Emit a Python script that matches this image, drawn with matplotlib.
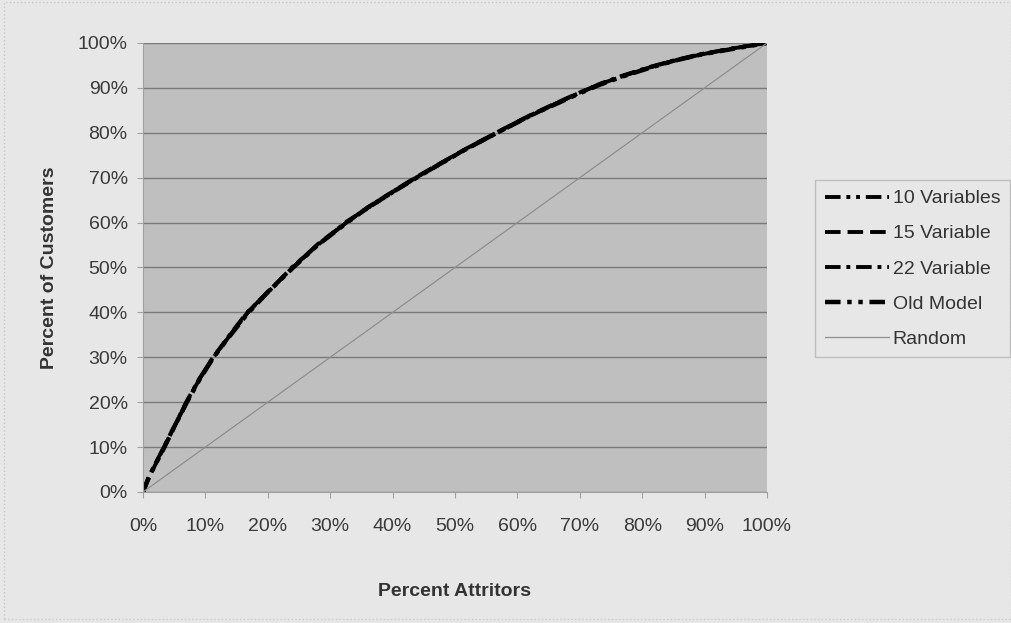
import matplotlib.pyplot as plt
from matplotlib.ticker import FuncFormatter

plt.rcParams['font.family'] = ['Liberation Sans', 'DejaVu Sans']

# Percent attritors (x) and percent of customers (y)
x_pct = [0, 1, 3.4, 5, 7, 9, 11.3, 14, 16.8, 20, 24, 28, 32.6, 36, 40,
         43.5, 47, 51.3, 56.7, 62, 66, 69.5, 73.2, 77, 81.3, 85, 89.3, 95, 100]
vars10 = [0, 3.5, 10, 14.5, 20, 25, 30, 35, 40, 44.5, 50, 55, 60, 63.3, 66.8,
          69.8, 72.6, 76, 80, 83.8, 86.4, 88.6, 90.8, 92.7, 94.6, 96, 97.4, 98.9, 100]
vars15 = [0, 3.4, 10, 14.4, 20, 25, 30.2, 35, 40, 44.6, 50, 55.2, 60, 63.4, 66.9,
          69.9, 72.7, 76.1, 80.1, 83.9, 86.5, 88.7, 90.8, 92.7, 94.6, 96, 97.4, 98.9, 100]
vars22 = [0, 3.6, 10.2, 14.6, 20.2, 25.2, 30, 35.2, 40.2, 44.4, 50.2, 55, 60.2, 63.2, 66.7,
          69.8, 72.5, 76, 79.9, 83.7, 86.4, 88.6, 90.9, 92.8, 94.7, 96.1, 97.5, 98.9, 100]
old_model = [0, 3.5, 9.9, 14.5, 19.9, 24.9, 30, 34.9, 39.8, 44.5, 49.9, 55, 59.9, 63.3, 66.8,
             69.7, 72.6, 76, 80, 83.8, 86.3, 88.5, 90.7, 92.6, 94.5, 96, 97.4, 98.8, 100]
random_x = [0, 100]
random_y = [0, 100]

fig = plt.figure(figsize=(10.12, 6.23), dpi=100, facecolor='#e7e7e7')
ax = fig.add_axes([0.1413, 0.2103, 0.6166, 0.7207])
ax.set_facecolor('#bfbfbf')

ax.plot(x_pct, vars10, color='black', lw=2.8, dashes=(4, 1.5, 1, 1.5, 1, 1.5), label='10 Variables')
ax.plot(x_pct, vars15, color='black', lw=2.8, dashes=(4, 1.8), label='15 Variable')
ax.plot(x_pct, vars22, color='black', lw=2.8, dashes=(4, 1.5, 1, 1.5), label='22 Variable')
ax.plot(x_pct, old_model, color='black', lw=3.2, dashes=(3.5, 1.5, 1, 1.5, 1, 1.5), label='Old Model')
ax.plot(random_x, random_y, color='#8e8e8e', lw=0.9, label='Random')

ax.set_xlim(0, 100)
ax.set_ylim(0, 100)
ax.set_xticks(range(0, 101, 10))
ax.set_yticks(range(0, 101, 10))
pct = FuncFormatter(lambda v, p: f'{int(v)}%')
ax.xaxis.set_major_formatter(pct)
ax.yaxis.set_major_formatter(pct)
ax.grid(axis='y', color='#7a7a7a', lw=1.0)
ax.set_axisbelow(True)
for s in ['top', 'right']:
    ax.spines[s].set_visible(False)
ax.spines['left'].set_color('#a0a0a0')
ax.spines['bottom'].set_color('#a0a0a0')
ax.tick_params(colors='#a0a0a0', labelcolor='#3a3a3a', labelsize=14, length=4)
ax.tick_params(axis='x', pad=15)
ax.tick_params(axis='y', pad=7)

ax.set_xlabel('Percent Attritors', fontsize=14, fontweight='bold', color='#333333', labelpad=34)
ax.set_ylabel('Percent of Customers', fontsize=14, fontweight='bold', color='#333333', labelpad=14)

leg = fig.legend(loc='upper left', bbox_to_anchor=(0.8053, 0.7111), frameon=True,
                 fontsize=14, handlelength=3.3, handletextpad=0.2, labelspacing=0.9,
                 borderpad=0.5, borderaxespad=0, fancybox=False)
leg.get_frame().set_facecolor('#e7e7e7')
leg.get_frame().set_edgecolor('#b4b4b4')
for t in leg.get_texts():
    t.set_color('#333333')

fig.patches.append(plt.Rectangle((0.004, 0.006), 0.995, 0.99, transform=fig.transFigure,
                                 fill=False, edgecolor='#c8c8c8', lw=1, linestyle=':'))

fig.savefig('out.png', dpi=100, facecolor=fig.get_facecolor())
